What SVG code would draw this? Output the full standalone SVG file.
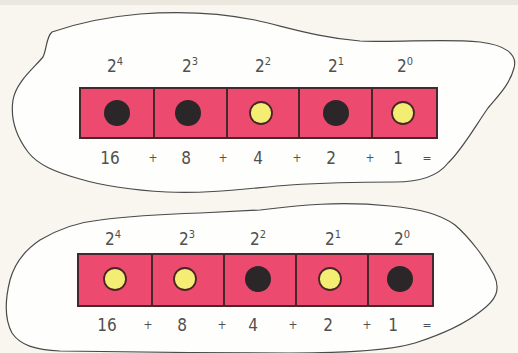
<svg xmlns="http://www.w3.org/2000/svg" width="518" height="353" viewBox="0 0 518 353">
<style>
.blob{fill:#fefefc;stroke:#4a4a4a;stroke-width:1.2}
.cell{fill:#ec4a6e;stroke:#45272c;stroke-width:2}
.on{fill:#2b2628}
.off{fill:#f3ed74;stroke:#4a2426;stroke-width:1.8}
.t{font-family:"DejaVu Sans Condensed","DejaVu Sans","Liberation Sans",sans-serif;font-stretch:condensed;fill:#505050;text-anchor:middle}
.exp{font-size:17px}
.num{font-size:17px}
.op{font-size:12px}
</style>
<rect width="518" height="353" fill="#f9f6ef"/>
<rect width="518" height="5" fill="#ebe7df"/>
<g id="top-blob">
<path class="blob" d="M52,32 C75,24 105,17 140,14 C180,11 220,13 255,20 C290,28 320,38 360,41 C400,43 440,38 480,42 C505,45 518,54 514,68 C510,84 498,96 488,108 C476,125 462,150 448,163 C438,176 420,182 395,182 C360,182 320,183 290,185 C250,188 210,194 167,192 C130,190 100,185 80,179 C55,172 38,165 28,152 C16,136 10,120 13,100 C16,82 34,68 43,57 C47,49 46,37 52,32 Z"/>
</g>
<g id="bottom-blob">
<path class="blob" d="M260,210 C300,205 340,201 390,206 C420,209 440,214 455,225 C470,238 485,258 494,275 C501,290 496,300 481,311 C466,323 440,335 415,343 C385,352 330,353 290,353 C220,353 120,352 60,351 C35,350 20,345 12,333 C5,320 5,300 10,280 C15,262 25,250 40,240 C60,228 80,222 100,220 C130,216 170,214 200,213 C220,212 240,211 260,210 Z"/>
</g>
<g id="row-top">
<g id="top-cell-16"><rect class="cell" x="80" y="88" width="74" height="50"/><circle class="on" cx="117" cy="113" r="13"/><text class="t exp" x="115" y="72">2<tspan dy="-7" font-size="11">4</tspan></text></g>
<g id="top-cell-8"><rect class="cell" x="154" y="88" width="73" height="50"/><circle class="on" cx="188" cy="113" r="13"/><text class="t exp" x="190" y="72">2<tspan dy="-7" font-size="11">3</tspan></text></g>
<g id="top-cell-4"><rect class="cell" x="227" y="88" width="72" height="50"/><circle class="off" cx="261" cy="113" r="11"/><text class="t exp" x="263" y="72">2<tspan dy="-7" font-size="11">2</tspan></text></g>
<g id="top-cell-2"><rect class="cell" x="299" y="88" width="73" height="50"/><circle class="on" cx="336" cy="113" r="13"/><text class="t exp" x="336" y="72">2<tspan dy="-7" font-size="11">1</tspan></text></g>
<g id="top-cell-1"><rect class="cell" x="372" y="88" width="65" height="50"/><circle class="off" cx="403" cy="113" r="11"/><text class="t exp" x="405" y="72">2<tspan dy="-7" font-size="11">0</tspan></text></g>
<g id="top-sum">
<text class="t num" x="110" y="164">16</text><text class="t op" x="153" y="162">+</text>
<text class="t num" x="186" y="164">8</text><text class="t op" x="223" y="162">+</text>
<text class="t num" x="258" y="164">4</text><text class="t op" x="297" y="162">+</text>
<text class="t num" x="331" y="164">2</text><text class="t op" x="370" y="162">+</text>
<text class="t num" x="398" y="164">1</text><text class="t op" x="427" y="162">=</text>
</g>
</g>
<g id="row-bottom">
<g id="bottom-cell-16"><rect class="cell" x="78" y="254" width="74" height="52"/><circle class="off" cx="115" cy="279" r="11"/><text class="t exp" x="113" y="245">2<tspan dy="-7" font-size="11">4</tspan></text></g>
<g id="bottom-cell-8"><rect class="cell" x="152" y="254" width="72" height="52"/><circle class="off" cx="185" cy="279" r="11"/><text class="t exp" x="187" y="245">2<tspan dy="-7" font-size="11">3</tspan></text></g>
<g id="bottom-cell-4"><rect class="cell" x="224" y="254" width="72" height="52"/><circle class="on" cx="258" cy="279" r="13"/><text class="t exp" x="258" y="245">2<tspan dy="-7" font-size="11">2</tspan></text></g>
<g id="bottom-cell-2"><rect class="cell" x="296" y="254" width="72" height="52"/><circle class="off" cx="330" cy="279" r="11"/><text class="t exp" x="333" y="245">2<tspan dy="-7" font-size="11">1</tspan></text></g>
<g id="bottom-cell-1"><rect class="cell" x="368" y="254" width="65" height="52"/><circle class="on" cx="400" cy="279" r="13"/><text class="t exp" x="402" y="245">2<tspan dy="-7" font-size="11">0</tspan></text></g>
<g id="bottom-sum">
<text class="t num" x="107" y="331">16</text><text class="t op" x="148" y="329">+</text>
<text class="t num" x="182" y="331">8</text><text class="t op" x="222" y="329">+</text>
<text class="t num" x="253" y="331">4</text><text class="t op" x="293" y="329">+</text>
<text class="t num" x="328" y="331">2</text><text class="t op" x="367" y="329">+</text>
<text class="t num" x="393" y="331">1</text><text class="t op" x="427" y="329">=</text>
</g>
</g>
<g id="connectors"></g>
</svg>
